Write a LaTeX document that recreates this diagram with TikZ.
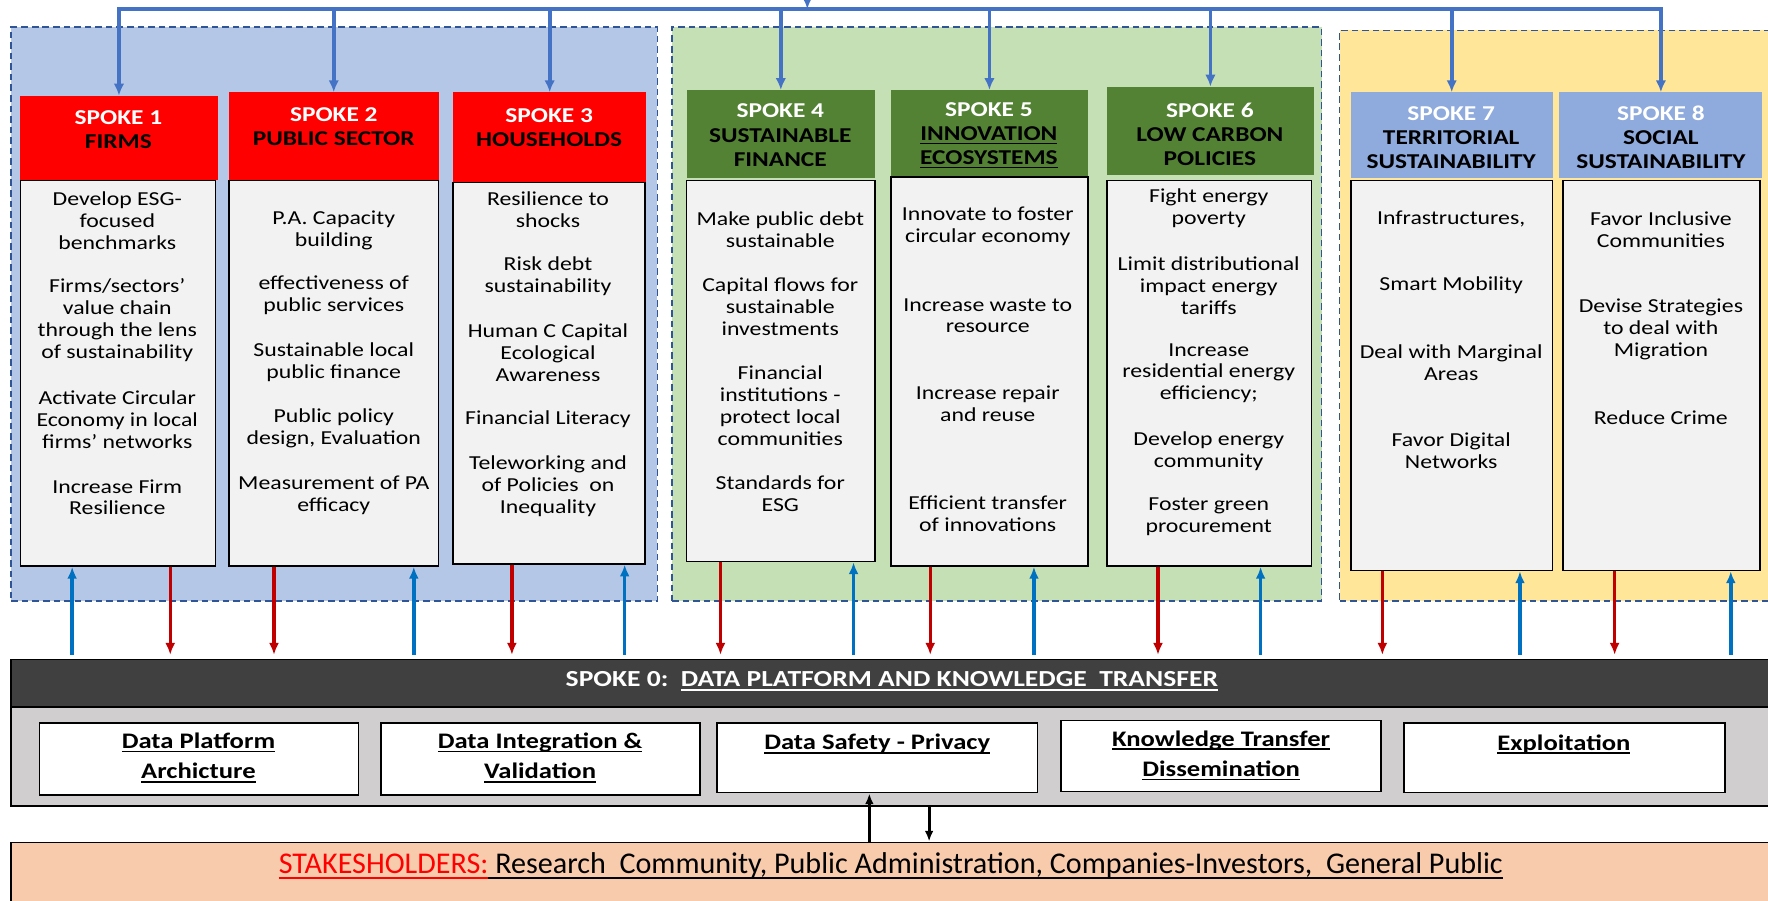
\documentclass[tikz,border=0pt]{standalone}
\usepackage{fontspec}
\setmainfont{Carlito}[FakeStretch=1.2]
\newfontfamily\stkfont{Carlito}
\usetikzlibrary{positioning,fit,calc,arrows.meta}

\definecolor{grpblue}{HTML}{B4C7E7}
\definecolor{grpgreen}{HTML}{C5E0B4}
\definecolor{grpyellow}{HTML}{FFE699}
\definecolor{grpline}{HTML}{2F5597}
\definecolor{hdrred}{HTML}{FF0000}
\definecolor{hdrgreen}{HTML}{548235}
\definecolor{hdrblue}{HTML}{8FAADC}
\definecolor{bodygray}{HTML}{F2F2F2}
\definecolor{linkblue}{HTML}{4472C4}
\definecolor{upblue}{HTML}{0070C0}
\definecolor{dnred}{HTML}{C00000}
\definecolor{darkbar}{HTML}{404040}
\definecolor{platgray}{HTML}{D0CECE}
\definecolor{peach}{HTML}{F8CBAD}

\newcommand{\uln}[1]{\setbox0\hbox{#1}\rlap{\rule[-0.18em]{\wd0}{0.075em}}\box0}

\begin{document}
\begin{tikzpicture}[x=0.03cm, y=-0.03cm]
\tikzstyle{grp}=[draw=grpline, dash pattern=on 5pt off 3pt, line width=1.2pt, inner sep=0pt]
\tikzstyle{hdrbox}=[inner sep=0pt]
\tikzstyle{hdr}=[inner sep=0pt, align=center, font=\fontsize{16}{18.3}\selectfont\bfseries]
\tikzstyle{body}=[draw=black, fill=bodygray, line width=1.2pt, inner sep=0pt]
\tikzstyle{itm}=[inner sep=0pt, align=center, font=\fontsize{15}{16.6}\selectfont]
\tikzstyle{link}=[draw=linkblue, line width=2.8pt, -{Latex[length=9pt,width=8pt]}]
\tikzstyle{uparr}=[draw=upblue, line width=2.6pt, -{Latex[length=9pt,width=7.5pt]}, shorten <=3pt]
\tikzstyle{dnarr}=[draw=dnred, line width=2.6pt, -{Latex[length=9pt,width=7.5pt]}, shorten >=3pt]
\tikzstyle{blkarr}=[draw=black, line width=2.4pt, -{Latex[length=8pt,width=6.5pt]}]
\tikzstyle{platbox}=[draw=black, line width=1.2pt, inner sep=0pt]
\tikzstyle{wp}=[draw=black, fill=white, line width=1.2pt, inner sep=0pt]
\tikzstyle{wplbl}=[inner sep=0pt, align=center, font=\fontsize{16.8}{23}\selectfont\bfseries]

\useasboundingbox (0,0) rectangle (1568,799);
\clip (0,0) rectangle (1568,799);

% groups
\node[grp, fill=grpblue, fit={(10,24) (583,533)}] (gA) {};
\node[grp, fill=grpgreen, fit={(596,24) (1172,533)}] (gB) {};
\node[grp, fill=grpyellow, fit={(1188,27) (1590,533)}] (gC) {};

% spoke headers
\node[hdrbox, fill=hdrred, fit={(18,85) (193,160)}] (h1) {};
\node[hdrbox, fill=hdrred, fit={(203,82) (389,160)}] (h2) {};
\node[hdrbox, fill=hdrred, fit={(402,82) (573,162)}] (h3) {};
\node[hdrbox, fill=hdrgreen, fit={(609,80) (776,158)}] (h4) {};
\node[hdrbox, fill=hdrgreen, fit={(790,80) (965,157)}] (h5) {};
\node[hdrbox, fill=hdrgreen, fit={(982,77) (1165,155)}] (h6) {};
\node[hdrbox, fill=hdrblue, fit={(1198,82) (1377,158)}] (h7) {};
\node[hdrbox, fill=hdrblue, fit={(1383,82) (1563,158)}] (h8) {};

\node[hdr] (l1) at (105,115) {\textcolor{white}{SPOKE 1}\\FIRMS};
\node[hdr] (l2) at (296,112) {\textcolor{white}{SPOKE 2}\\PUBLIC SECTOR};
\node[hdr] (l3) at (487,113) {\textcolor{white}{SPOKE 3}\\HOUSEHOLDS};
\node[hdr] (l4) at (692,120) {\textcolor{white}{SPOKE 4}\\SUSTAINABLE\\FINANCE};
\node[hdr] (l5) at (877,120) {\textcolor{white}{SPOKE 5}\\\uln{INNOVATION}\\\uln{ECOSYSTEMS}};
\node[hdr] (l6) at (1073,119) {\textcolor{white}{SPOKE 6}\\LOW CARBON\\POLICIES};
\node[hdr] (l7) at (1287,122) {\textcolor{white}{SPOKE 7}\\TERRITORIAL\\SUSTAINABILITY};
\node[hdr] (l8) at (1473,122) {\textcolor{white}{SPOKE 8}\\SOCIAL\\SUSTAINABILITY};

% spoke bodies
\node[body, fit={(18,160) (191,502)}] (b1) {};
\node[body, fit={(203,160) (389,502)}] (b2) {};
\node[body, fit={(402,162) (572,500)}] (b3) {};
\node[body, fit={(609,160) (776,498)}] (b4) {};
\node[body, fit={(790,157) (965,502)}] (b5) {};
\node[body, fit={(982,160) (1163,502)}] (b6) {};
\node[body, fit={(1198,160) (1377,506)}] (b7) {};
\node[body, fit={(1386,160) (1561,506)}] (b8) {};

\node[itm] (s1a) at (104,196) {Develop ESG-\\focused\\benchmarks};
\node[itm] (s1b) at (104,284) {Firms/sectors'\\value chain\\through the lens\\of sustainability};
\node[itm] (s1c) at (104,372) {Activate Circular\\Economy in local\\firms' networks};
\node[itm] (s1d) at (104,441) {Increase Firm\\Resilience};

\node[itm] (s2a) at (296,204) {P.A. Capacity\\building};
\node[itm] (s2b) at (296,262) {effectiveness of\\public services};
\node[itm] (s2c) at (296,321) {Sustainable local\\public finance};
\node[itm] (s2d) at (296,380) {Public policy\\design, Evaluation};
\node[itm] (s2e) at (296,439) {Measurement of PA\\efficacy};

\node[itm] (s3a) at (486,186) {Resilience to\\shocks};
\node[itm] (s3b) at (486,245) {Risk debt\\sustainability};
\node[itm] (s3c) at (486,313) {Human C Capital\\Ecological\\Awareness};
\node[itm] (s3d) at (486,372) {Financial Literacy};
\node[itm] (s3e) at (486,431) {Teleworking and\\of Policies\ \ on\\Inequality};

\node[itm] (s4a) at (692,204) {Make public debt\\sustainable};
\node[itm] (s4b) at (692,272) {Capital flows for\\sustainable\\investments};
\node[itm] (s4c) at (692,360) {Financial\\institutions -\\protect local\\communities};
\node[itm] (s4d) at (692,438) {Standards for\\ESG};

\node[itm] (s5a) at (876,201) {Innovate to foster\\circular economy};
\node[itm] (s5b) at (876,280) {Increase waste to\\resource};
\node[itm] (s5c) at (876,358) {Increase repair\\and reuse};
\node[itm] (s5d) at (876,456) {Efficient transfer\\of innovations};

\node[itm] (s6a) at (1072,185) {Fight energy\\poverty};
\node[itm] (s6b) at (1072,253) {Limit distributional\\impact energy\\tariffs};
\node[itm] (s6c) at (1072,331) {Increase\\residential energy\\efficiency;};
\node[itm] (s6d) at (1072,400) {Develop energy\\community};
\node[itm] (s6e) at (1072,458) {Foster green\\procurement};

\node[itm] (s7a) at (1287,194) {Infrastructures,};
\node[itm] (s7b) at (1287,253) {Smart Mobility};
\node[itm] (s7c) at (1287,322) {Deal with Marginal\\Areas};
\node[itm] (s7d) at (1287,400) {Favor Digital\\Networks};

\node[itm] (s8a) at (1473,204) {Favor Inclusive\\Communities};
\node[itm] (s8b) at (1473,292) {Devise Strategies\\to deal with\\Migration};
\node[itm] (s8c) at (1473,370) {Reduce Crime};

% spoke 0
\node[platbox, fill=darkbar, fit={(10,585) (1590,627)}] (sp0) {};
\node[platbox, fill=platgray, fit={(10,627) (1590,715)}] (plat) {};
\node[text=white, inner sep=0pt, font=\fontsize{17.4}{19}\selectfont\bfseries] (sp0t) at (791,604)
  {SPOKE 0:\ \ \uln{DATA PLATFORM AND KNOWLEDGE\ \ TRANSFER}};

\node[wp, fit={(35,641) (318,705)}] (p1) {};
\node[wp, fit={(338,641) (621,705)}] (p2) {};
\node[wp, fit={(636,641) (920,703)}] (p3) {};
\node[wp, fit={(941,639) (1225,702)}] (p4) {};
\node[wp, fit={(1245,641) (1530,703)}] (p5) {};

\node[wplbl] (q1) at (176,672) {\uln{Data Platform}\\\uln{Archicture}};
\node[wplbl] (q2) at (479,672) {\uln{Data Integration \&}\\\uln{Validation}};
\node[wplbl] (q3) at (778,660) {\uln{Data Safety - Privacy}};
\node[wplbl] (q4) at (1083,670) {\uln{Knowledge Transfer}\\\uln{Dissemination}};
\node[wplbl] (q5) at (1387,660) {\uln{Exploitation}};

% stakeholders
\node[platbox, fill=peach, fit={(10,747) (1590,815)}] (stk) {};
\node[inner sep=0pt, font=\stkfont\fontsize{22.8}{24}\selectfont] (stkt) at (790,768)
  {\textcolor{red}{\uln{STAKESHOLDERS:}}\uln{\ Research\ \ Community, Public Administration, Companies-Investors,\ \ General Public}};

% top links
\coordinate (src) at (716,0);
\coordinate (hub) at (716,8);
\draw[link] (src) -- (hub);
\draw[link] (hub) -| (h1.north);
\draw[link] (hub) -| (h2.north);
\draw[link] (hub) -| (h3.north);
\draw[link] (hub) -| (h4.north);
\draw[link] (hub) -| (h5.north);
\draw[link] (hub) -| (h6.north);
\draw[link] (hub) -| (h7.north);
\draw[link] (hub) -| (h8.north);

% spokes <-> spoke 0
\coordinate (u1) at (64,0);   \coordinate (d1) at (151,0);
\coordinate (d2) at (243,0);  \coordinate (u2) at (367,0);
\coordinate (d3) at (454,0);  \coordinate (u3) at (554,0);
\coordinate (d4) at (639,0);  \coordinate (u4) at (757,0);
\coordinate (d5) at (825,0);  \coordinate (u5) at (917,0);
\coordinate (d6) at (1027,0); \coordinate (u6) at (1118,0);
\coordinate (d7) at (1226,0); \coordinate (u7) at (1348,0);
\coordinate (d8) at (1432,0); \coordinate (u8) at (1535,0);

\draw[uparr] (sp0.north -| u1) -- (b1.south -| u1);
\draw[dnarr] (b1.south -| d1) -- (sp0.north -| d1);
\draw[dnarr] (b2.south -| d2) -- (sp0.north -| d2);
\draw[uparr] (sp0.north -| u2) -- (b2.south -| u2);
\draw[dnarr] (b3.south -| d3) -- (sp0.north -| d3);
\draw[uparr] (sp0.north -| u3) -- (b3.south -| u3);
\draw[dnarr] (b4.south -| d4) -- (sp0.north -| d4);
\draw[uparr] (sp0.north -| u4) -- (b4.south -| u4);
\draw[dnarr] (b5.south -| d5) -- (sp0.north -| d5);
\draw[uparr] (sp0.north -| u5) -- (b5.south -| u5);
\draw[dnarr] (b6.south -| d6) -- (sp0.north -| d6);
\draw[uparr] (sp0.north -| u6) -- (b6.south -| u6);
\draw[dnarr] (b7.south -| d7) -- (sp0.north -| d7);
\draw[uparr] (sp0.north -| u7) -- (b7.south -| u7);
\draw[dnarr] (b8.south -| d8) -- (sp0.north -| d8);
\draw[uparr] (sp0.north -| u8) -- (b8.south -| u8);

% spoke 0 <-> stakeholders
\coordinate (k1) at (771,0);
\coordinate (k2) at (824,0);
\draw[blkarr] (stk.north -| k1) -- (p3.south -| k1);
\draw[blkarr] (plat.south -| k2) -- (stk.north -| k2);
\end{tikzpicture}
\end{document}
